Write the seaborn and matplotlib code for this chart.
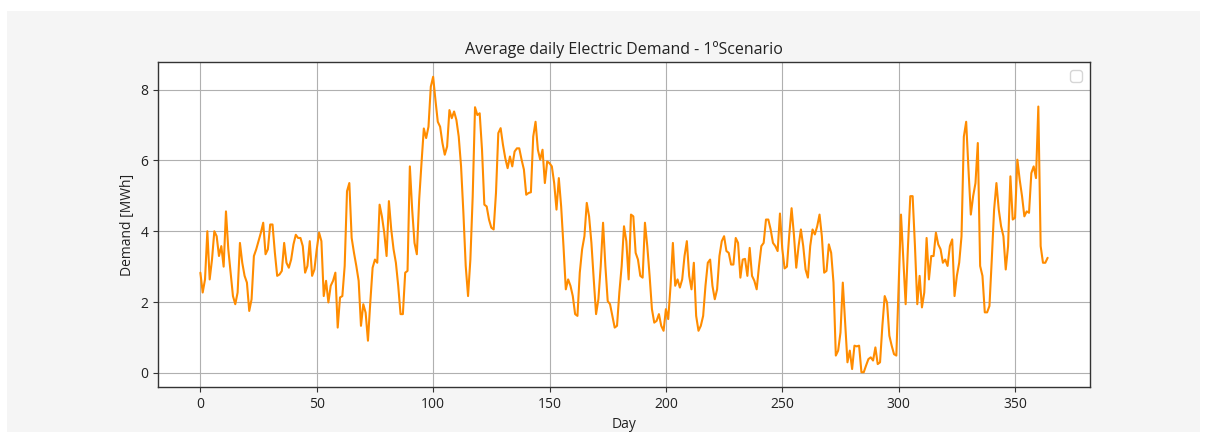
import matplotlib
matplotlib.use("Agg")
import matplotlib.pyplot as plt
from matplotlib.patches import Rectangle
import numpy as np
import pandas as pd
import seaborn as sns

# Average daily electric demand [MWh], one value per day of the year
demand_q1 = [
    2.83, 2.27, 2.64, 4.0, 2.64, 3.2, 4.0, 3.86, 3.3, 3.58,
    3.0, 4.56, 3.49, 2.83, 2.17, 1.94, 2.27, 3.67, 3.11, 2.74,
    2.55, 1.75, 2.08, 3.3, 3.49, 3.72, 3.96, 4.24, 3.35, 3.49,
    4.19, 4.19, 3.4, 2.74, 2.78, 2.88, 3.67, 3.11, 2.97, 3.2,
    3.63, 3.9, 3.81, 3.81, 3.58, 2.83, 3.02, 3.72, 2.74, 2.92,
    3.49,
    3.96, 3.72, 2.17, 2.6, 1.99, 2.46, 2.6, 2.83, 1.28, 2.13,
    2.17, 3.02, 5.13, 5.36, 3.81, 3.39, 3.02, 2.6, 1.33, 1.94,
    1.7, 0.91, 1.99, 2.97, 3.2, 3.11, 4.75, 4.42, 3.96, 3.3,
    4.85, 4.05, 3.49, 3.11, 2.46, 1.66, 1.66, 2.83, 2.88, 5.83,
]
demand_q2 = [
    4.61, 3.67, 3.35, 4.89, 5.92, 6.9, 6.63, 6.95, 8.08, 8.36,
    7.7, 7.09,
    6.95, 6.49, 6.16, 6.39, 7.42, 7.19, 7.38, 7.14, 6.67, 5.83,
    4.52, 3.02, 2.17, 3.2, 4.99, 7.5, 7.28, 7.33, 6.3, 4.75,
    4.7, 4.33, 4.1, 4.05, 5.08, 6.77, 6.91, 6.44, 6.06, 5.78,
    6.11, 5.83, 6.25, 6.34, 6.34, 6.02, 5.74, 5.03, 5.08, 5.1,
    6.67, 7.09, 6.3, 6.02, 6.3, 5.36, 5.97, 5.92, 5.83, 5.36,
    4.61, 5.5,
    4.7, 3.58, 2.36, 2.64, 2.46, 2.17, 1.66, 1.61, 2.83, 3.49,
    3.86, 4.8, 4.42, 3.67, 2.64, 1.66, 2.08, 3.02, 4.24, 3.02,
    2.03, 1.94, 1.61, 1.28, 1.33, 2.27, 3.02, 4.14, 3.72, 2.64,
]
demand_q3 = [
    4.47, 4.42, 3.39, 3.2, 2.74, 2.69, 4.24, 3.58, 2.74, 1.8,
    1.42, 1.47, 1.66, 1.33, 1.19, 1.8, 1.52, 2.46, 3.67, 2.46,
    2.64, 2.41, 2.64, 3.3, 3.72, 2.74, 2.36, 3.11, 1.61, 1.19,
    1.33, 1.61, 2.46, 3.11, 3.2, 2.46, 2.08, 2.36, 3.3, 3.72,
    3.86, 3.44, 3.39, 3.06, 3.06, 3.81, 3.67, 2.69, 3.2, 3.22,
    2.74, 3.53, 2.74, 2.6, 2.36, 3.02, 3.58, 3.67, 4.33, 4.33,
    4.05, 3.67, 3.58, 3.44, 4.5, 3.5, 2.95, 3.0, 3.9, 4.65,
    3.9,
    2.97, 3.58, 4.05, 3.58, 2.92, 2.69, 3.58, 4.05, 3.91, 4.14,
    4.47, 3.86, 2.83, 2.88, 3.63, 3.39, 2.55,
]
demand_q4 = [
    0.49, 0.63, 1.14, 2.55, 1.42, 0.3, 0.63, 0.11, 0.77, 0.75,
    0.77, 0.02, 0.02, 0.21, 0.39, 0.44, 0.35, 0.72, 0.25, 0.3,
    1.33, 2.17, 1.99, 1.05, 0.77, 0.53, 0.49, 2.5, 4.47, 3.2,
    1.94, 3.58, 4.99, 4.99, 3.58,
    1.94, 2.74, 1.85, 2.27, 3.81, 2.64, 3.3, 3.3, 3.96, 3.63,
    3.49, 3.11, 3.2, 3.02, 3.58, 3.77, 2.17, 2.74, 3.11, 3.86,
    6.67, 7.09, 5.74, 4.47, 4.99, 5.36, 6.49, 3.02, 2.74, 1.71,
    1.71, 1.89, 3.2, 4.61, 5.36, 4.61, 4.14, 3.86, 2.92, 3.58,
    5.55, 4.33, 4.38, 6.02, 5.45, 4.99, 4.42, 4.56, 4.52, 5.64,
    5.83, 5.5, 7.52, 3.58, 3.11, 3.11, 3.25,
]

demand = demand_q1 + demand_q2 + demand_q3 + demand_q4
days = np.arange(len(demand))
df = pd.DataFrame({"Day": days, "Demand": demand})

sns.set_theme(style="ticks")
plt.rcParams["font.family"] = ["Open Sans", "DejaVu Sans"]
plt.rcParams["font.size"] = 10

fig = plt.figure(figsize=(12.05, 4.32), dpi=100, facecolor="white")
# light grey canvas behind the axes
fig.patches.append(Rectangle((7 / 1205, 0), 1 - 12 / 1205, 1 - 11 / 432,
                             transform=fig.transFigure, facecolor="#f5f5f5",
                             edgecolor="none", zorder=-10))
ax = fig.add_axes([158 / 1205, 1 - 387 / 432, (1090 - 158) / 1205, (387 - 62) / 432])
ax.set_facecolor("white")

sns.lineplot(data=df, x="Day", y="Demand", color="darkorange", linewidth=1.5, ax=ax)

ax.grid(True, color="#b0b0b0", linewidth=0.8)
ax.set_axisbelow(True)
for sp in ax.spines.values():
    sp.set_color("#333333")
    sp.set_linewidth(1.0)
ax.tick_params(axis="both", direction="out", length=3.5, width=0.8,
               colors="#333333", labelsize=10, labelcolor="#222222")
ax.set_xticks([0, 50, 100, 150, 200, 250, 300, 350])
ax.set_yticks([0, 2, 4, 6, 8])
ax.set_xlabel("Day", fontsize=10, color="#222222")
ax.set_ylabel("Demand [MWh]", fontsize=10, color="#222222")
ax.set_title("Average daily Electric Demand - 1ºScenario", fontsize=11.5, color="#222222")
ax.legend(handles=[], loc="upper right")

fig.savefig("out.png", dpi=100, facecolor=fig.get_facecolor())
